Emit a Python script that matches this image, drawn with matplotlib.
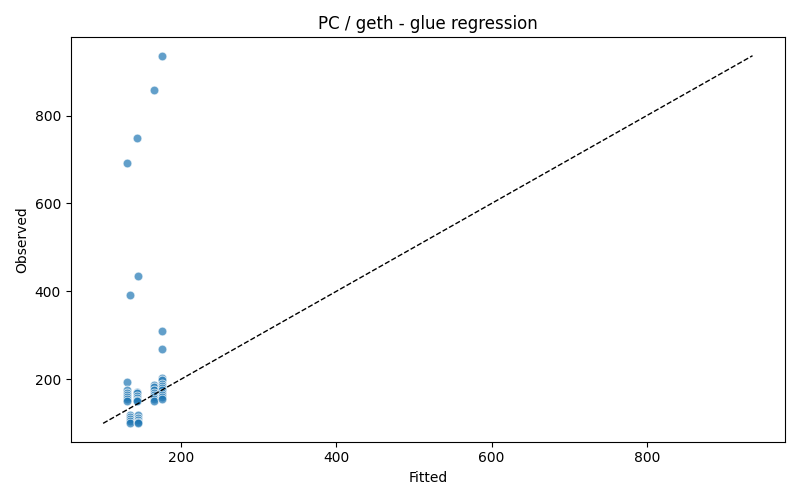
import matplotlib
matplotlib.use("Agg")
import matplotlib.pyplot as plt
import numpy as np

# values
fitted = [131, 131, 131, 131, 131, 131, 131, 131,
          134, 134, 134, 134, 134, 134,
          143, 143, 143, 143, 143, 143, 143,
          145.5, 145.5, 145.5, 145.5, 145.5, 145.5,
          165, 165, 165, 165, 165, 165, 165, 165, 165,
          176, 176, 176, 176, 176, 176, 176, 176, 176, 176, 176, 176, 176]
observed = [693, 195, 175, 170, 165, 160, 155, 150,
            391, 120, 115, 110, 105, 101,
            748, 172, 168, 163, 158, 153, 150,
            436, 118, 113, 108, 103, 100,
            859, 188, 182, 176, 170, 165, 160, 155, 150,
            936, 309, 270, 203, 198, 190, 185, 180, 175, 170, 165, 160, 156]

fig, ax = plt.subplots(figsize=(8, 5), dpi=100)
ax.scatter(fitted, observed, s=40, color="#1f77b4", alpha=0.7,
           edgecolor="white", linewidth=0.75)

lo = min(min(fitted), min(observed))
hi = max(max(fitted), max(observed))
ax.plot([lo, hi], [lo, hi], "k--", linewidth=1)

ax.set_title("PC / geth - glue regression")
ax.set_xlabel("Fitted")
ax.set_ylabel("Observed")
ax.set_xticks([200, 400, 600, 800])
ax.set_yticks([200, 400, 600, 800])

fig.tight_layout()
fig.savefig("out.png")
